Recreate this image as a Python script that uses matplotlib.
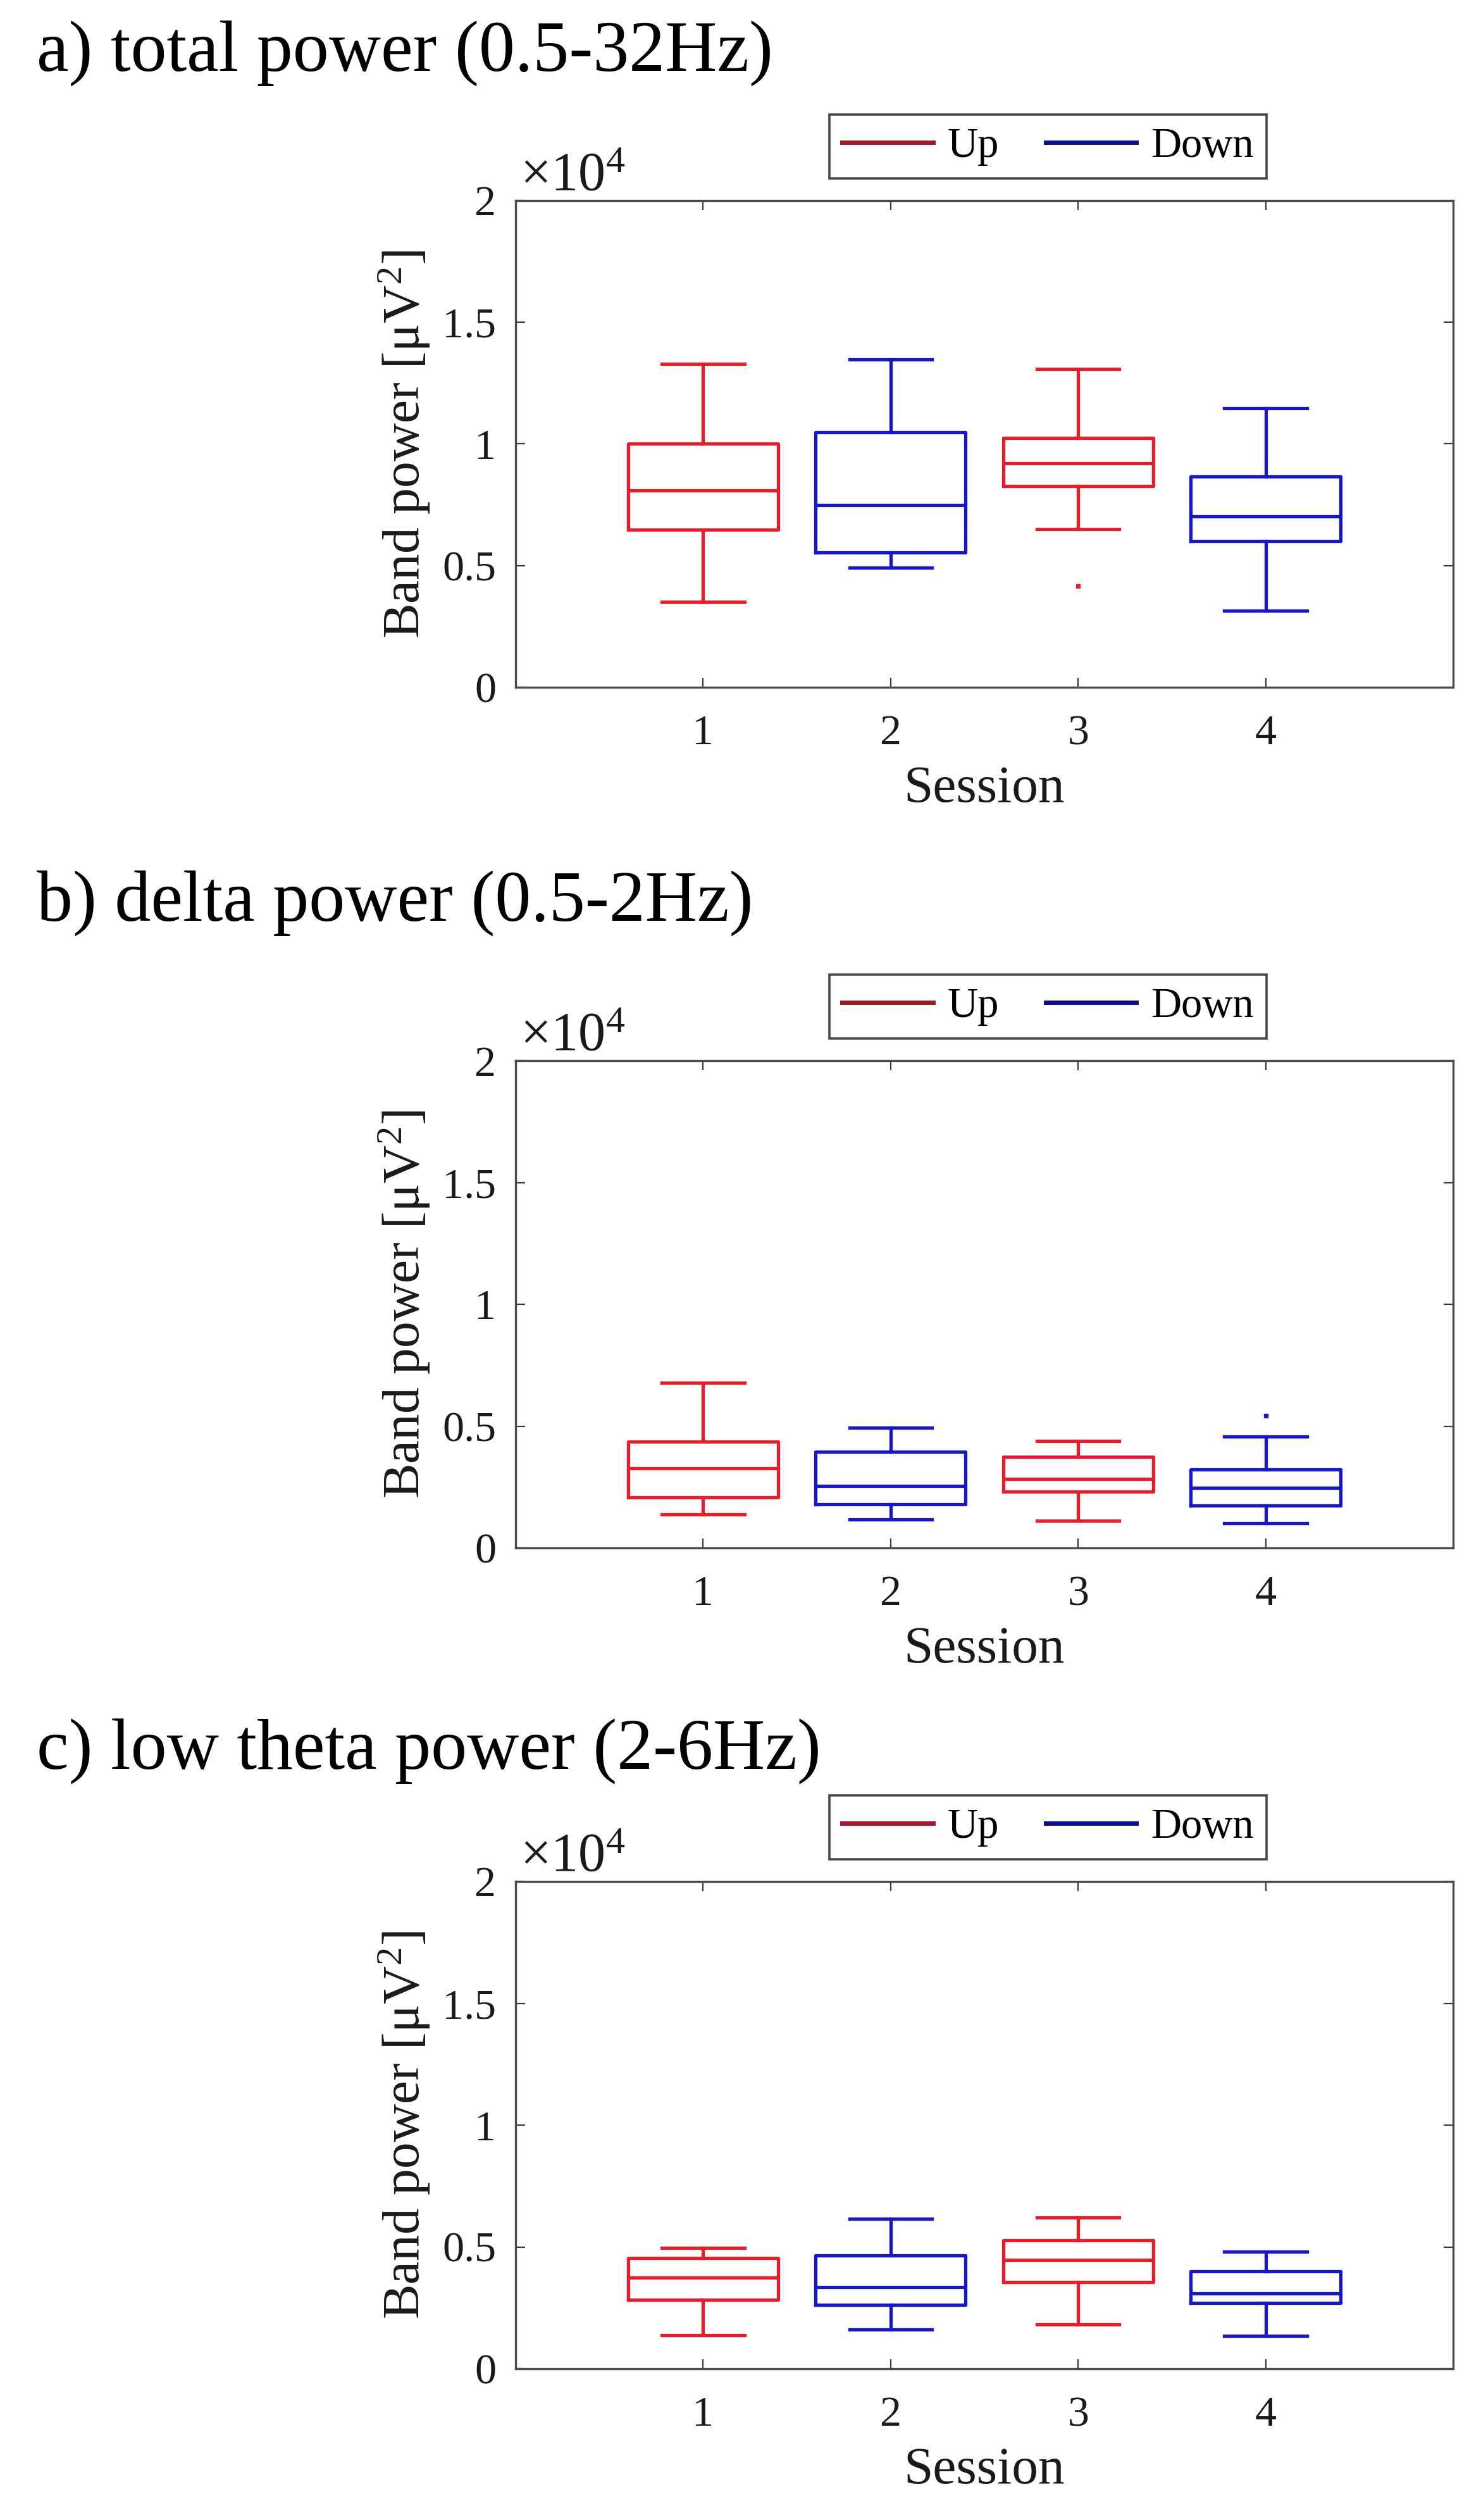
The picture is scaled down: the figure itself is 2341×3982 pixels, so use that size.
import matplotlib

matplotlib.use("Agg")

import matplotlib.pyplot as plt
from matplotlib.lines import Line2D
from matplotlib.ticker import FixedLocator, FuncFormatter


SESSIONS = [1, 2, 3, 4]
GROUPS = ["Up", "Down", "Up", "Down"]

# box statistics (uV^2)
TOTAL_MED = [8090, 7490, 9210, 7030]
TOTAL_Q1 = [6470, 5530, 8270, 6010]
TOTAL_Q3 = [10000, 10470, 10260, 8660]
TOTAL_LO = [3510, 4910, 6500, 3150]
TOTAL_HI = [13290, 13470, 13090, 11460]
TOTAL_FLIERS = [[], [], [4150], []]

DELTA_MED = [3260, 2540, 2840, 2470]
DELTA_Q1 = [2070, 1800, 2320, 1740]
DELTA_Q3 = [4360, 3960, 3730, 3210]
DELTA_LO = [1380, 1160, 1120, 1010]
DELTA_HI = [6780, 4940, 4390, 4580]
DELTA_FLIERS = [[], [], [], [5430]]

THETA_MED = [3730, 3340, 4480, 3090]
THETA_Q1 = [2840, 2630, 3550, 2700]
THETA_Q3 = [4540, 4660, 5280, 4000]
THETA_LO = [1370, 1610, 1810, 1360]
THETA_HI = [4970, 6160, 6220, 4810]
THETA_FLIERS = [[], [], [], []]

TITLES = [
    "a) total power (0.5-32Hz)",
    "b) delta power (0.5-2Hz)",
    "c) low theta power (2-6Hz)",
]

Y_TICKS = [0, 5000, 10000, 15000, 20000]

COLORS = {"Up": "#e61e2c", "Down": "#1717c6"}
LEGEND_COLORS = {"Up": "#9e1a2a", "Down": "#0d0d8e"}

FIG_W, FIG_H = 2341, 3982
AX_LEFT, AX_RIGHT = 815, 2297
# (top, bottom) of each axes box and title baseline, in pixels
AX_ROWS = [(317, 1086), (1676, 2446), (2973, 3743)]
TITLE_BASE = [112, 1455, 2795]

plt.rcParams["font.family"] = ["Liberation Serif", "DejaVu Serif"]
plt.rcParams["mathtext.fontset"] = "custom"
plt.rcParams["mathtext.rm"] = "Liberation Serif"
plt.rcParams["mathtext.it"] = "Liberation Serif:italic"


def make_stats(med, q1, q3, lo, hi, fliers):
    stats = []
    for i in range(len(med)):
        stats.append(
            {
                "med": med[i],
                "q1": q1[i],
                "q3": q3[i],
                "whislo": lo[i],
                "whishi": hi[i],
                "fliers": fliers[i],
            }
        )
    return stats


def draw_panel(ax, stats):
    for group in ("Up", "Down"):
        idx = [i for i, g in enumerate(GROUPS) if g == group]
        col = COLORS[group]
        line = dict(color=col, linewidth=3.8)
        ax.bxp(
            [stats[i] for i in idx],
            positions=[SESSIONS[i] for i in idx],
            widths=0.8,
            capwidths=0.44,
            boxprops=line,
            whiskerprops=line,
            capprops=line,
            medianprops=line,
            flierprops=dict(
                marker="s", markersize=5, markerfacecolor=col, markeredgecolor=col
            ),
            manage_ticks=False,
        )

    ax.set_xlim(0, 5)
    ax.set_ylim(0, 20000)
    ax.xaxis.set_major_locator(FixedLocator(SESSIONS))
    ax.yaxis.set_major_locator(FixedLocator(Y_TICKS))
    ax.yaxis.set_major_formatter(FuncFormatter(lambda v, p: f"{v / 1e4:g}"))

    ax.tick_params(
        direction="in", length=11, width=1.6, color="#3a3a3a",
        top=True, right=True, labelsize=49, labelcolor="#1a1a1a",
    )
    ax.tick_params(axis="x", pad=31)
    ax.tick_params(axis="y", pad=22)
    for spine in ax.spines.values():
        spine.set_color("#4a4a4a")
        spine.set_linewidth(2.4)

    ax.set_xlabel("Session", fontsize=60, labelpad=14, color="#1a1a1a")
    ax.set_ylabel("Band power [μV$^{2}$]", fontsize=60, labelpad=12, color="#1a1a1a")

    ax.annotate(
        "×$10^{4}$", xy=(0, 1), xycoords="axes fraction",
        xytext=(5, 12), textcoords="offset points",
        ha="left", va="baseline", fontsize=62, color="#1a1a1a",
    )

    handles = [
        Line2D([], [], color=LEGEND_COLORS["Up"], linewidth=5, label="Up"),
        Line2D([], [], color=LEGEND_COLORS["Down"], linewidth=5, label="Down"),
    ]
    leg = ax.legend(
        handles=handles, loc="lower center", bbox_to_anchor=(0.568, 1.045),
        ncol=2, fontsize=48, frameon=True, fancybox=False, edgecolor="#1a1a1a",
        handlelength=2.15, handletextpad=0.35, columnspacing=1.1,
        borderpad=0.3, borderaxespad=0,
    )
    leg.get_frame().set_linewidth(2.6)


def main():
    fig = plt.figure(figsize=(FIG_W / 100, FIG_H / 100), dpi=100)

    panels = [
        make_stats(TOTAL_MED, TOTAL_Q1, TOTAL_Q3, TOTAL_LO, TOTAL_HI, TOTAL_FLIERS),
        make_stats(DELTA_MED, DELTA_Q1, DELTA_Q3, DELTA_LO, DELTA_HI, DELTA_FLIERS),
        make_stats(THETA_MED, THETA_Q1, THETA_Q3, THETA_LO, THETA_HI, THETA_FLIERS),
    ]

    for k, stats in enumerate(panels):
        top, bottom = AX_ROWS[k]
        ax = fig.add_axes(
            [
                AX_LEFT / FIG_W,
                1 - bottom / FIG_H,
                (AX_RIGHT - AX_LEFT) / FIG_W,
                (bottom - top) / FIG_H,
            ]
        )
        draw_panel(ax, stats)
        fig.text(
            58 / FIG_W, 1 - TITLE_BASE[k] / FIG_H, TITLES[k],
            fontsize=82, ha="left", va="baseline", color="black",
        )

    fig.savefig("out.png", dpi=100, facecolor="white")
    plt.close(fig)


if __name__ == "__main__":
    main()
